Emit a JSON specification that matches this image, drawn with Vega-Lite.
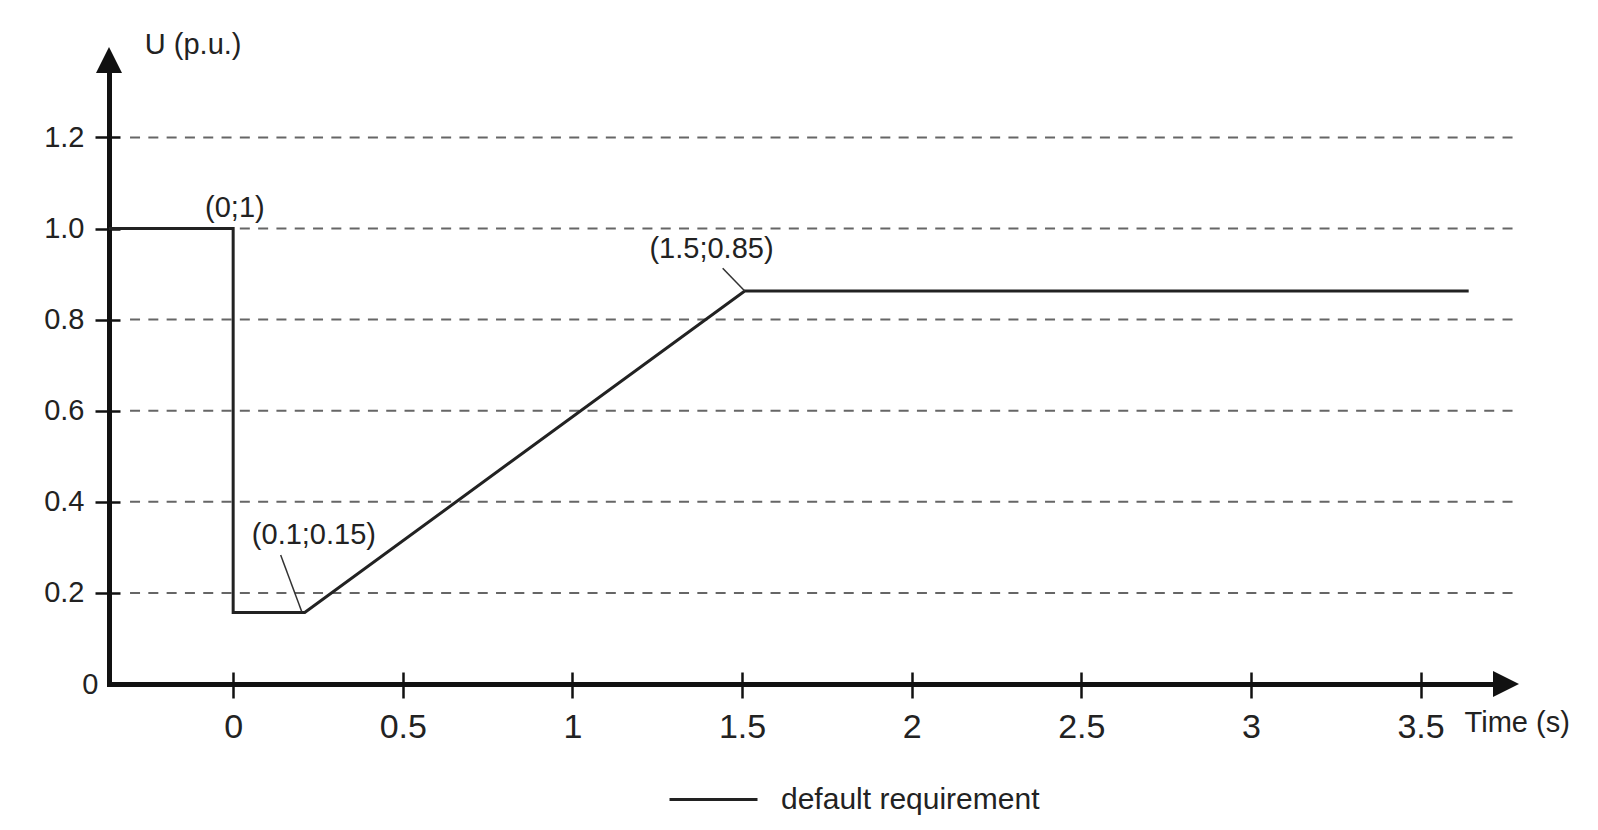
{
  "$schema": "https://vega.github.io/schema/vega-lite/v6.json",
  "width": 1397,
  "height": 624,
  "autosize": {"type": "none"},
  "padding": {"left": 109, "top": 60, "right": 92, "bottom": 146},
  "background": "white",
  "config": {
    "view": {"stroke": null},
    "font": "Liberation Sans",
    "axis": {"labelFont": "Liberation Sans", "zindex": 1}
  },
  "datasets": {
    "curve": [
      {"i": 1, "t": -0.366, "u": 1.0, "series": "default requirement"},
      {"i": 2, "t": 0.0, "u": 1.0, "series": "default requirement"},
      {"i": 3, "t": 0.0, "u": 0.157, "series": "default requirement"},
      {"i": 4, "t": 0.211, "u": 0.157, "series": "default requirement"},
      {"i": 5, "t": 1.508, "u": 0.863, "series": "default requirement"},
      {"i": 6, "t": 3.642, "u": 0.863, "series": "default requirement"}
    ],
    "grid": [{"v": 0.2}, {"v": 0.4}, {"v": 0.6}, {"v": 0.8}, {"v": 1.0}, {"v": 1.2}],
    "leaders": [
      {"t1": 1.443, "u1": 0.913, "t2": 1.508, "u2": 0.863},
      {"t1": 0.14, "u1": 0.283, "t2": 0.202, "u2": 0.159}
    ],
    "labels": [
      {"label": "(0;1)", "lx": 0.005, "ly": 1.044},
      {"label": "(1.5;0.85)", "lx": 1.41, "ly": 0.955},
      {"label": "(0.1;0.15)", "lx": 0.238, "ly": 0.327},
      {"label": "Time (s)", "lx": 3.785, "ly": -0.086},
      {"label": "U (p.u.)", "lx": -0.118, "ly": 1.403}
    ],
    "arrows": [
      {"ax": 3.752, "ay": 0, "dir": "right"},
      {"ax": -0.366, "ay": 1.37, "dir": "up"}
    ]
  },
  "resolve": {"axis": {"x": "independent", "y": "independent"}},
  "layer": [
    {
      "data": {"name": "grid"},
      "mark": {"type": "rule", "stroke": "#666666", "strokeWidth": 2, "strokeDash": [10, 8.3]},
      "encoding": {
        "y": {"field": "v", "type": "quantitative", "scale": {"domain": [0, 1.37], "nice": false, "zero": false}, "axis": null},
        "x": {"datum": -0.304, "type": "quantitative", "scale": {"domain": [-0.366, 3.752], "nice": false, "zero": false}, "axis": null},
        "x2": {"datum": 3.777}
      }
    },
    {
      "data": {"name": "curve"},
      "mark": {"type": "line", "strokeWidth": 3, "strokeJoin": "miter"},
      "encoding": {
        "x": {
          "field": "t", "type": "quantitative",
          "scale": {"domain": [-0.366, 3.752], "nice": false, "zero": false},
          "axis": {
            "orient": "bottom", "title": null, "grid": false,
            "values": [0, 0.5, 1, 1.5, 2, 2.5, 3, 3.5], "format": "~g",
            "domain": true, "domainColor": "#111", "domainWidth": 5, "domainCap": "square",
            "ticks": true, "tickSize": 14, "tickWidth": 2.5, "tickColor": "#111",
            "labelFontSize": 34, "labelColor": "#222", "labelPadding": 12, "labelFlush": false, "labelOverlap": false
          }
        },
        "y": {
          "field": "u", "type": "quantitative",
          "scale": {"domain": [0, 1.37], "nice": false, "zero": false},
          "axis": {
            "orient": "left", "title": null, "grid": false,
            "values": [0, 0.2, 0.4, 0.6, 0.8, 1.0, 1.2],
            "labelExpr": "datum.value === 0 ? '0' : format(datum.value, '.1f')",
            "domain": true, "domainColor": "#111", "domainWidth": 5, "domainCap": "square",
            "ticks": true, "tickSize": 14, "tickWidth": 2.5, "tickColor": "#111",
            "tickOpacity": {"condition": {"test": "datum.value === 0", "value": 0}, "value": 1},
            "labelPadding": {"condition": {"test": "datum.value === 0", "value": -3}, "value": 11},
            "labelFontSize": 29, "labelColor": "#222", "labelFlush": false, "labelOverlap": false
          }
        },
        "order": {"field": "i", "type": "quantitative"},
        "color": {
          "field": "series", "type": "nominal",
          "scale": {"range": ["#222222"]},
          "legend": {
            "orient": "none", "legendX": 559, "legendY": 694, "title": null, "padding": 0,
            "symbolType": "stroke", "symbolSize": 7744, "symbolStrokeWidth": 3,
            "labelFontSize": 30, "labelOffset": 22, "labelColor": "#222", "labelFont": "Liberation Sans", "labelLimit": 0
          }
        }
      }
    },
    {
      "data": {"name": "leaders"},
      "mark": {"type": "rule", "stroke": "#333", "strokeWidth": 1.5},
      "encoding": {
        "x": {
          "field": "t1", "type": "quantitative",
          "axis": {
            "orient": "bottom", "offset": -12, "title": null, "grid": false, "labels": false, "domain": false,
            "values": [0, 0.5, 1, 1.5, 2, 2.5, 3, 3.5],
            "ticks": true, "tickSize": 12, "tickWidth": 2.5, "tickColor": "#111"
          }
        },
        "y": {
          "field": "u1", "type": "quantitative",
          "axis": {
            "orient": "left", "offset": -11, "title": null, "grid": false, "labels": false, "domain": false,
            "values": [0.2, 0.4, 0.6, 0.8, 1.0, 1.2],
            "ticks": true, "tickSize": 11, "tickWidth": 2.5, "tickColor": "#111"
          }
        },
        "x2": {"field": "t2"},
        "y2": {"field": "u2"}
      }
    },
    {
      "data": {"name": "labels"},
      "mark": {"type": "text", "fontSize": 29, "align": "center", "baseline": "middle", "color": "#222", "font": "Liberation Sans"},
      "encoding": {
        "x": {"field": "lx", "type": "quantitative", "axis": null},
        "y": {"field": "ly", "type": "quantitative", "axis": null},
        "text": {"field": "label"}
      }
    },
    {
      "data": {"name": "arrows"},
      "mark": {"type": "point", "filled": true, "size": 676, "opacity": 1, "color": "#111"},
      "encoding": {
        "x": {"field": "ax", "type": "quantitative", "axis": null},
        "y": {"field": "ay", "type": "quantitative", "axis": null},
        "shape": {
          "field": "dir", "type": "nominal", "legend": null,
          "scale": {"domain": ["right", "up"], "range": ["M1,0L-1,-1L-1,1Z", "M0,-1L1,1L-1,1Z"]}
        }
      }
    }
  ]
}
